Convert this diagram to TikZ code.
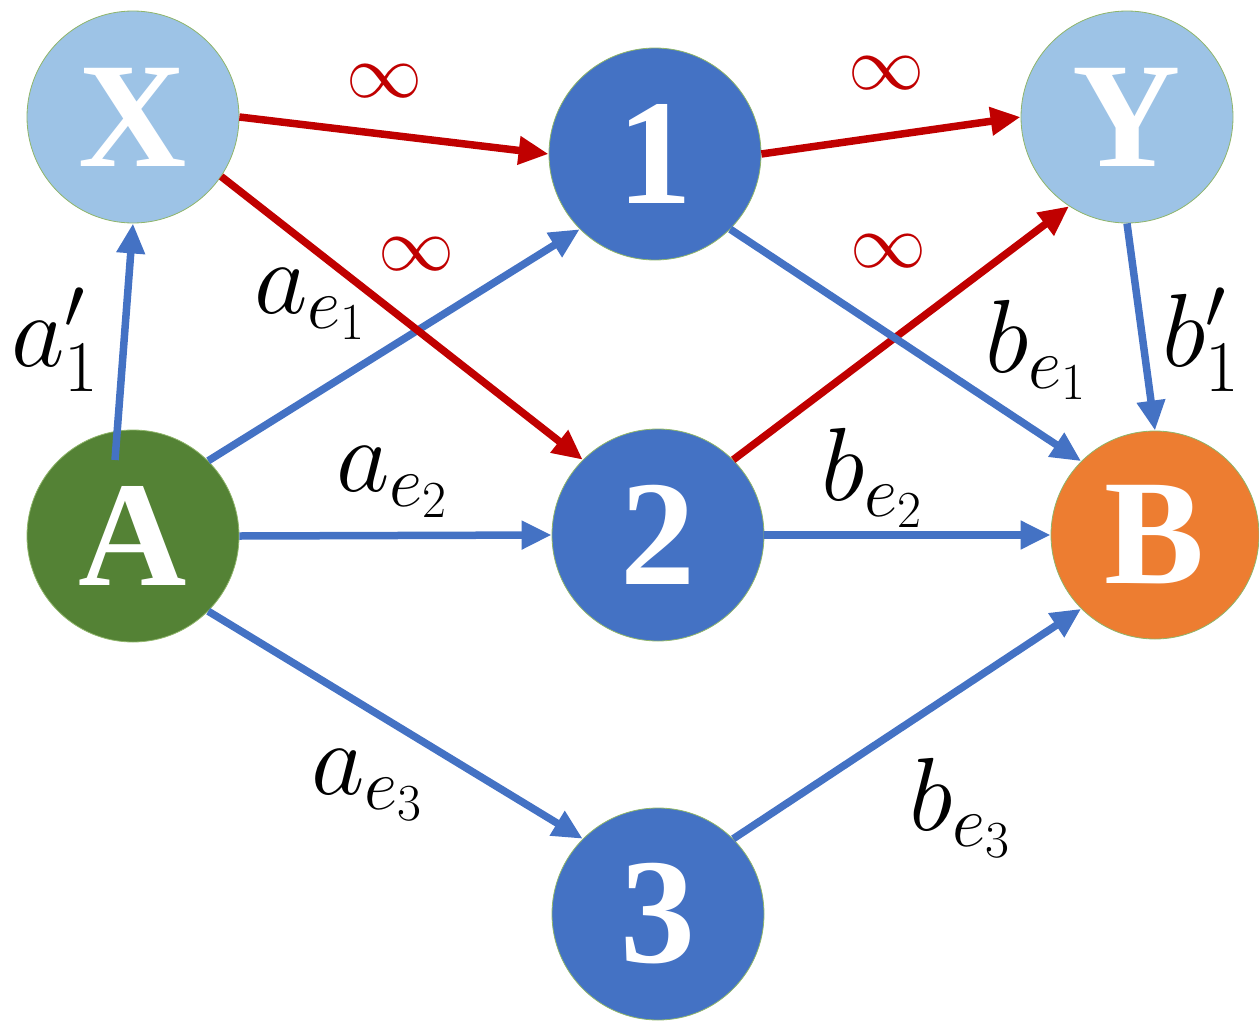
\RequirePackage{fix-cm}
\documentclass[tikz,border=0pt]{standalone}
\usepackage{fontspec}
\newfontfamily\nodefont{Liberation Serif}
\usetikzlibrary{arrows.meta}
\definecolor{lblue}{HTML}{9DC3E6}
\definecolor{nblue}{HTML}{4472C4}
\definecolor{agreen}{HTML}{548235}
\definecolor{borange}{HTML}{ED7D31}
\definecolor{ered}{HTML}{C00000}
\definecolor{eblue}{HTML}{4472C4}
\definecolor{border}{HTML}{8FB56A}
\begin{document}
\begin{tikzpicture}[x=1pt,y=-1pt,
  vert/.style={circle, minimum size=212pt, inner sep=0pt, draw=border, line width=0.8pt,
    text=white, font=\nodefont\bfseries\fontsize{150}{150}\selectfont},
  bl/.style={draw=eblue, line width=7.5pt, -{Triangle[length=30pt,width=27pt]}},
  rd/.style={draw=ered, line width=7.5pt, -{Triangle[length=30pt,width=27pt]}},
  lab/.style={font=\fontsize{104}{110}\selectfont, inner sep=0pt},
  inf/.style={font=\fontsize{76}{80}\selectfont, text=ered, inner sep=0pt}]
\useasboundingbox (0,0) rectangle (1259,1023);
\node[vert, fill=lblue] (X) at (133,117) {X};
\node[vert, fill=nblue] (n1) at (655,154) {1};
\node[vert, fill=lblue] (Y) at (1127,117) {Y};
\node[vert, fill=agreen] (A) at (133,536) {A};
\node[vert, fill=nblue] (n2) at (658,535) {2};
\node[vert, fill=borange, minimum size=208pt] (B) at (1155,535) {B};
\node[vert, fill=nblue] (n3) at (658,914) {3};
\coordinate (As) at (115,460);
% edges
\draw[bl] (As) -- (X.south);
\draw[bl] (A.45) -- (n1.225);
\draw[bl] (A.east) -- (n2.west);
\draw[bl] (A.-45) -- (n3.135);
\draw[rd] (X.east) -- (n1.west);
\draw[rd] (X.-34) -- (n2.135);
\draw[rd] (n1.east) -- (Y.west);
\draw[rd] (n2.45) -- (Y.237);
\draw[bl] (n1.-45) -- (B.135);
\draw[bl] (Y.south) -- (B.north);
\draw[bl] (n2.east) -- (B.west);
\draw[bl] (n3.45) -- (B.225);
% labels
\node[lab] (la1) at (55,340) {$a'_1$};
\node[lab] (lae1) at (310,304) {$a_{e_1}$};
\node[lab] (lae2) at (392,482) {$a_{e_2}$};
\node[lab] (lae3) at (367,785) {$a_{e_3}$};
\node[lab] (lbe1) at (1036,350) {$b_{e_1}$};
\node[lab] (lb1) at (1201,340) {$b'_1$};
\node[lab] (lbe2) at (872,478) {$b_{e_2}$};
\node[lab] (lbe3) at (960,808) {$b_{e_3}$};
\node[inf] (i1) at (384,81) {$\infty$};
\node[inf] (i2) at (416,254) {$\infty$};
\node[inf] (i3) at (886,73) {$\infty$};
\node[inf] (i4) at (888,251) {$\infty$};
\end{tikzpicture}
\end{document}
